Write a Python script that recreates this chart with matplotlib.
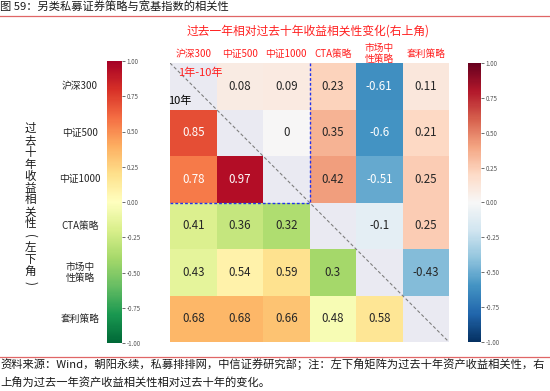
import numpy as np
import matplotlib
matplotlib.use("Agg")
import matplotlib.pyplot as plt
from matplotlib.colors import Normalize
from matplotlib.cm import ScalarMappable
from matplotlib.lines import Line2D

plt.rcParams['font.family'] = ['Noto Sans CJK SC', 'DejaVu Sans']
plt.rcParams['axes.unicode_minus'] = True

labels = ["沪深300", "中证500", "中证1000", "CTA策略", "市场中\n性策略", "套利策略"]
# upper triangle: 1y vs 10y change
upper_vals = {
    (0, 1): 0.08, (0, 2): 0.09, (0, 3): 0.23, (0, 4): -0.61, (0, 5): 0.11,
    (1, 2): 0.0, (1, 3): 0.35, (1, 4): -0.6, (1, 5): 0.21,
    (2, 3): 0.42, (2, 4): -0.51, (2, 5): 0.25,
    (3, 4): -0.1, (3, 5): 0.25,
    (4, 5): -0.43,
}
# lower triangle: 10y correlation
lower_vals = {
    (1, 0): 0.85,
    (2, 0): 0.78, (2, 1): 0.97,
    (3, 0): 0.41, (3, 1): 0.36, (3, 2): 0.32,
    (4, 0): 0.43, (4, 1): 0.54, (4, 2): 0.59, (4, 3): 0.3,
    (5, 0): 0.68, (5, 1): 0.68, (5, 2): 0.66, (5, 3): 0.48, (5, 4): 0.58,
}
cbar_ticks = [-1.0, -0.75, -0.5, -0.25, 0.0, 0.25, 0.5, 0.75, 1.0]

n = len(labels)
U = np.full((n, n), np.nan)
L = np.full((n, n), np.nan)
for (i, j), v in upper_vals.items():
    U[i, j] = v
for (i, j), v in lower_vals.items():
    L[i, j] = v

W, H = 550, 391
fig = plt.figure(figsize=(W / 100, H / 100), dpi=100)
fig.patch.set_facecolor('white')

def fx(x):
    return x / W

def fy(y):
    return 1 - y / H

ax = fig.add_axes([fx(170), fy(342), fx(449) - fx(170), fy(63) - fy(342)])
ax.set_facecolor('#EAEAF2')
cmap_u = plt.get_cmap('RdBu_r')
cmap_l = plt.get_cmap('RdYlGn_r')
norm_u = Normalize(-1, 1)
norm_l = Normalize(0, 1)
ax.pcolormesh(np.arange(n + 1), np.arange(n + 1), np.ma.masked_invalid(U),
              cmap=cmap_u, norm=norm_u)
ax.pcolormesh(np.arange(n + 1), np.arange(n + 1), np.ma.masked_invalid(L),
              cmap=cmap_l, norm=norm_l)
ax.set_xlim(0, n)
ax.set_ylim(n, 0)
ax.set_xticks([])
ax.set_yticks([])
for s in ax.spines.values():
    s.set_visible(False)

for (i, j), v in upper_vals.items():
    col = 'white' if abs(v) > 0.5 else '#262626'
    ax.text(j + 0.5, i + 0.5, f"{v:g}", ha='center', va='center',
            fontsize=8.3, color=col)
for (i, j), v in lower_vals.items():
    col = 'white' if v > 0.75 else '#262626'
    ax.text(j + 0.5, i + 0.5, f"{v:g}", ha='center', va='center',
            fontsize=8.3, color=col)

ax.plot([0, n], [0, n], ls=(0, (3, 2)), color='#808080', lw=0.8)
ax.plot([3, 3], [0, 3], ls=(0, (2, 1.5)), color='#2233EE', lw=1.0)
ax.plot([0, 3], [3, 3], ls=(0, (2, 1.5)), color='#2233EE', lw=1.0)
ax.text(0.18, 0.22, "1年-10年", color='#FF2020', fontsize=8, ha='left', va='center')
ax.text(-0.05, 0.82, "10年", color='black', fontsize=8, ha='left', va='center',
        clip_on=False)

cell = 279 / n
# column labels (drawn behind heatmap)
for j, lab in enumerate(labels):
    xc = 170 + (j + 0.5) * cell
    parts = lab.split("\n")
    if len(parts) == 1:
        fig.text(fx(xc), fy(53.5), lab, color='#FF2020', fontsize=7, ha='center',
                 va='center', zorder=-1)
    else:
        for k, p in enumerate(parts):
            fig.text(fx(xc), fy(48 + k * 11), p, color='#FF2020', fontsize=7,
                     ha='center', va='center', zorder=-1)
# row labels
for i, lab in enumerate(labels):
    yc = 63 + (i + 0.5) * cell
    parts = lab.split("\n")
    for k, p in enumerate(parts):
        off = (k - (len(parts) - 1) / 2) * 11.5
        fig.text(fx(80), fy(yc + off), p, color='#262626', fontsize=7,
                 ha='center', va='center')

# left colorbar
cax_l = fig.add_axes([fx(107), fy(343), fx(122) - fx(107), fy(61) - fy(343)])
cb_l = fig.colorbar(ScalarMappable(norm=norm_u, cmap=cmap_l), cax=cax_l,
                    ticks=cbar_ticks, format='%.2f')
cb_l.outline.set_visible(False)
cax_l.tick_params(labelsize=4.5, labelcolor='#555555', length=2, width=0.6,
                  color='#555555', pad=1.5)

# right colorbar
cax_r = fig.add_axes([fx(468), fy(342), fx(481) - fx(468), fy(63) - fy(342)])
cb_r = fig.colorbar(ScalarMappable(norm=norm_u, cmap=cmap_u), cax=cax_r,
                    ticks=cbar_ticks, format='%.2f')
cb_r.outline.set_visible(False)
cax_r.tick_params(labelsize=4.5, labelcolor='#555555', length=2, width=0.6,
                  color='#555555', pad=1.5)

# titles
fig.text(fx(0.5), fy(7.5), "图 59：另类私募证券策略与宽基指数的相关性", fontsize=8.1,
         color='#1a1a1a', ha='left', va='center')
fig.add_artist(Line2D([0, 1], [fy(15.5), fy(15.5)], color='#E06666', lw=0.9))
fig.text(fx(308), fy(31), "过去一年相对过去十年收益相关性变化(右上角)", fontsize=8.5,
         color='#FF2020', ha='center', va='center')

# vertical y label, one character per line
ylab = "过去十年收益相关性(左下角)"
for k, ch in enumerate(ylab):
    rot = -90 if ch in "()" else 0
    fig.text(fx(30), fy(128.5 + k * 11.9), ch, fontsize=8.3, color='#1a1a1a',
             ha='center', va='center', rotation=rot)

fig.add_artist(Line2D([0, 1], [fy(357), fy(357)], color='#E06666', lw=0.9))
fig.text(fx(0.5), fy(364.5), "资料来源：Wind，朝阳永续，私募排排网，中信证券研究部；注：左下角矩阵为过去十年资产收益相关性，右",
         fontsize=8.1, color='#1a1a1a', ha='left', va='center')
fig.text(fx(0.5), fy(382), "上角为过去一年资产收益相关性相对过去十年的变化。",
         fontsize=8.1, color='#1a1a1a', ha='left', va='center')

fig.savefig("out.png", dpi=100, facecolor='white')
